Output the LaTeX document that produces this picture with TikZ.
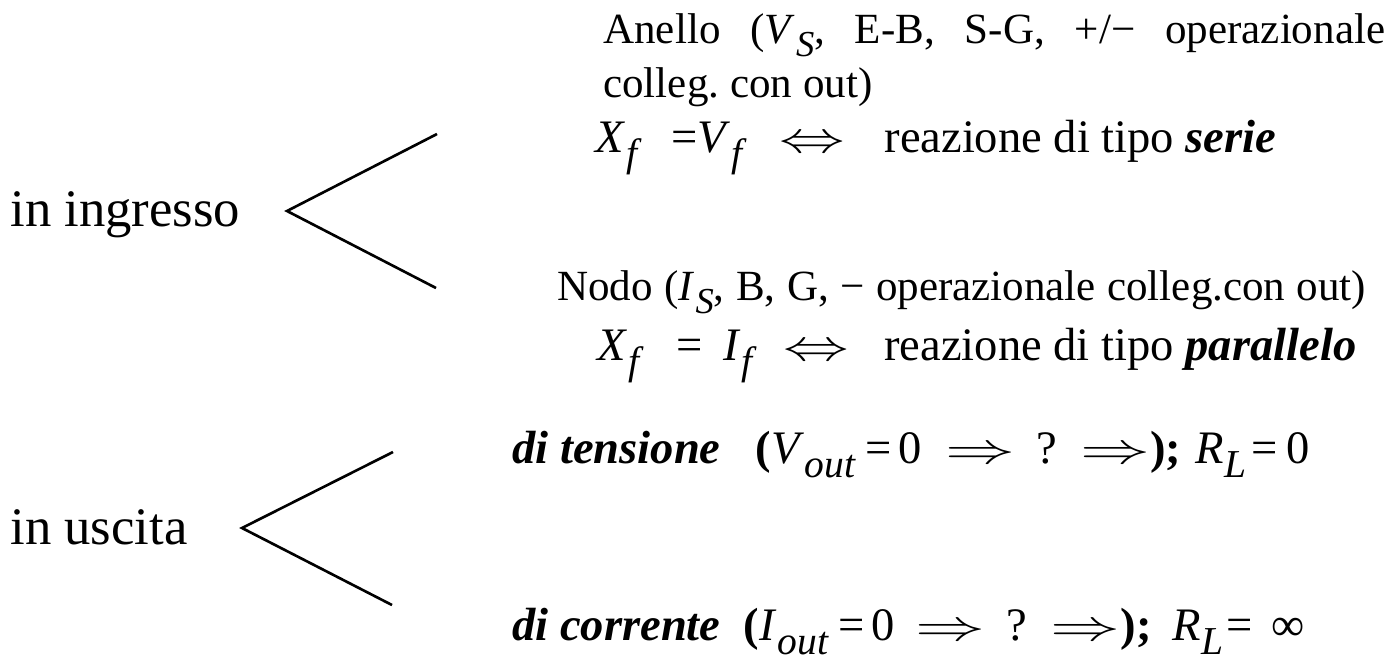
\documentclass[tikz,border=0pt]{standalone}
\usepackage{fontspec}
\setmainfont{Liberation Serif}
\usepackage{graphicx}
\newcommand{\vsub}[2]{\textit{#1}\kern0.02em\raisebox{-0.32em}{\scalebox{0.85}{\textit{#2}}}}
\newcommand{\bi}[1]{\textbf{\textit{#1}}}
\newcommand{\iffarr}{\scalebox{1.5}[1]{$\Leftrightarrow$}}
\newcommand{\impl}{\scalebox{1.6}[1]{$\Rightarrow$}}
\frenchspacing

\begin{document}
\begin{tikzpicture}[x=0.02cm,y=-0.02cm,
  chev/.style={line width=1.5pt},
  big/.style={anchor=base west,inner sep=0pt,font=\fontsize{30}{36}\selectfont},
  small/.style={anchor=base west,inner sep=0pt,font=\fontsize{24.5}{29}\selectfont},
  eqn/.style={anchor=base west,inner sep=0pt,font=\fontsize{26.5}{32}\selectfont}]
\path[use as bounding box] (0,0) rectangle (1396,664);
% the two sides of the loop
\node[big] (ingr) at (10,226) {in ingresso};
\node[big] (usc) at (10,544) {in uscita};
% branch marks
\coordinate (ingrTip) at (287,211);
\coordinate (ingrUp) at (437,134);
\coordinate (ingrDn) at (436,288);
\draw[chev] (ingrUp) -- (ingrTip) -- (ingrDn);
\coordinate (uscTip) at (242,528);
\coordinate (uscUp) at (393,452);
\coordinate (uscDn) at (392,605);
\draw[chev] (uscUp) -- (uscTip) -- (uscDn);
% input side: series
\node[small] (anello) at (603,43)
  {\makebox[15.64cm][s]{Anello (\vsub{V}{S}, E-B, S-G, +/− operazionale}};
\node[small] (anello2) at (603,97) {colleg. con out)};
\node[eqn] (serie) at (595,152)
  {\vsub{X}{f}\hspace{0.63em}=\vsub{V}{f}\hspace{0.7em}\iffarr\hspace{0.85em}reazione di tipo \bi{serie}};
% input side: shunt
\node[small] (nodo) at (557,300)
  {\makebox[16.18cm][s]{Nodo (\vsub{I}{S}, B, G, − operazionale colleg.con out)}};
\node[eqn] (paral) at (597,360)
  {\vsub{X}{f}\hspace{0.7em}=\hspace{0.45em}\vsub{I}{f}\hspace{0.55em}\iffarr\hspace{0.77em}reazione di tipo \bi{parallelo}};
% output side
\node[eqn] (tens) at (512,463)
  {\bi{di tensione}\hspace{0.75em}\textbf{(}\vsub{V}{out}\hspace{0.2em}=\hspace{0.15em}0\hspace{0.5em}\impl\hspace{0.45em}?\hspace{0.5em}\impl\textbf{);}\hspace{0.3em}\vsub{R}{L}\hspace{0.1em}=\hspace{0.2em}0};
\node[eqn] (corr) at (512,640)
  {\bi{di corrente}\hspace{0.5em}\textbf{(}\vsub{I}{out}\hspace{0.2em}=\hspace{0.15em}0\hspace{0.45em}\impl\hspace{0.45em}?\hspace{0.5em}\impl\textbf{);}\hspace{0.45em}\vsub{R}{L}\hspace{0.05em}=\hspace{0.4em}∞};
\end{tikzpicture}
\end{document}
